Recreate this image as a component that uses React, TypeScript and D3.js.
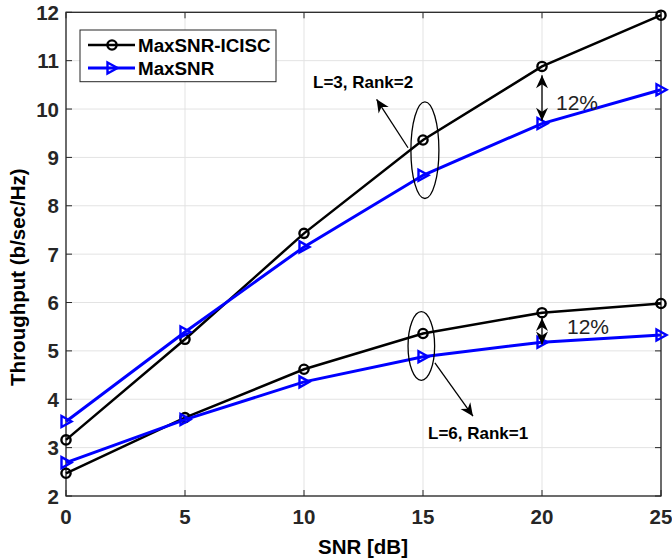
import React from "react";
import * as d3 from "d3";

const snr = [0, 5, 10, 15, 20, 25];
const iciscL3 = [3.16, 5.24, 7.43, 9.36, 10.88, 11.94];
const maxsnrL3 = [3.54, 5.39, 7.15, 8.63, 9.7, 10.4];
const iciscL6 = [2.47, 3.62, 4.62, 5.36, 5.79, 5.98];
const maxsnrL6 = [2.69, 3.58, 4.36, 4.88, 5.18, 5.33];
const xTicks = [0, 5, 10, 15, 20, 25];
const yTicks = [2, 3, 4, 5, 6, 7, 8, 9, 10, 11, 12];
const legendLabels = ["MaxSNR-ICISC", "MaxSNR"];

const W = 672, H = 560;
const L = 66, R = 661, T = 12.3, B = 496;
const FONT = "'Liberation Sans', Arial, Helvetica, sans-serif";
const AX = "#262626";

const x = d3.scaleLinear().domain([0, 25]).range([L, R]);
const y = d3.scaleLinear().domain([2, 12]).range([B, T]);

const line = d3.line<number>().x((_, i) => x(snr[i])).y((d) => y(d));

const tri = "M -4.5 -5.5 L 5.5 0 L -4.5 5.5 Z";

function Head({ tx, ty, angle }: { tx: number; ty: number; angle: number }) {
  return (
    <path
      d="M 0 0 L -13 -6 L -9 0 L -13 6 Z"
      transform={`translate(${tx},${ty}) rotate(${angle})`}
      fill="#000"
    />
  );
}

function Arrow({ x1, y1, x2, y2 }: { x1: number; y1: number; x2: number; y2: number }) {
  const ang = (Math.atan2(y2 - y1, x2 - x1) * 180) / Math.PI;
  return (
    <g>
      <line x1={x1} y1={y1} x2={x2} y2={y2} stroke="#000" strokeWidth={1.3} />
      <Head tx={x2} ty={y2} angle={ang} />
    </g>
  );
}

function DoubleArrow({ xv, y1, y2, small }: { xv: number; y1: number; y2: number; small?: boolean }) {
  return (
    <g>
      <line x1={xv} y1={y1} x2={xv} y2={y2} stroke="#000" strokeWidth={1.3} />
      <Head tx={xv} ty={y1} angle={-90} />
      <Head tx={xv} ty={y2} angle={90} />
    </g>
  );
}

function Series({ data, color, marker, width }: { data: number[]; color: string; marker: "o" | "t"; width: number }) {
  return (
    <g>
      <path d={line(data) || ""} fill="none" stroke={color} strokeWidth={width} />
      {data.map((v, i) =>
        marker === "o" ? (
          <circle key={i} cx={x(snr[i])} cy={y(v)} r={4.6} fill="none" stroke={color} strokeWidth={2.4} />
        ) : (
          <path key={i} d={tri} transform={`translate(${x(snr[i])},${y(v)})`} fill="none" stroke={color} strokeWidth={2.4} />
        )
      )}
    </g>
  );
}

export default function App() {
  return (
    <svg width={W} height={H} style={{ position: "absolute", left: 0, top: 0, background: "#fff" }} fontFamily={FONT}>
      <rect x={0} y={0} width={W} height={H} fill="#fff" />
      {xTicks.map((t) => (
        <line key={"gx" + t} x1={x(t)} x2={x(t)} y1={T} y2={B} stroke="#e3e3e3" strokeWidth={1} />
      ))}
      {yTicks.map((t) => (
        <line key={"gy" + t} x1={L} x2={R} y1={y(t)} y2={y(t)} stroke="#e3e3e3" strokeWidth={1} />
      ))}
      {xTicks.map((t) => (
        <g key={"tx" + t}>
          <line x1={x(t)} x2={x(t)} y1={B} y2={B - 6} stroke={AX} />
          <line x1={x(t)} x2={x(t)} y1={T} y2={T + 6} stroke={AX} />
          <text x={x(t)} y={B + 28} textAnchor="middle" fontSize={20.5} fontWeight="bold" fill={AX}>
            {t}
          </text>
        </g>
      ))}
      {yTicks.map((t) => (
        <g key={"ty" + t}>
          <line x1={L} x2={L + 6} y1={y(t)} y2={y(t)} stroke={AX} />
          <line x1={R} x2={R - 6} y1={y(t)} y2={y(t)} stroke={AX} />
          <text x={L - 7} y={y(t) + 7.5} textAnchor="end" fontSize={20.5} fontWeight="bold" fill={AX}>
            {t}
          </text>
        </g>
      ))}
      <rect x={L} y={T} width={R - L} height={B - T} fill="none" stroke={AX} strokeWidth={1.3} />
      <text x={363} y={554} textAnchor="middle" fontSize={20.5} fontWeight="bold" fill="#000">
        SNR [dB]
      </text>
      <text transform={`translate(25,${(T + B) / 2 + 23}) rotate(-90)`} textAnchor="middle" fontSize={20.5} fontWeight="bold" fill="#000">
        Throughput (b/sec/Hz)
      </text>
      <Series data={iciscL3} color="#000" marker="o" width={2.5} />
      <Series data={maxsnrL3} color="#0000ff" marker="t" width={3} />
      <Series data={iciscL6} color="#000" marker="o" width={2.5} />
      <Series data={maxsnrL6} color="#0000ff" marker="t" width={3} />
      <ellipse cx={x(15.08)} cy={y(9.15)} rx={14} ry={y(8.15) - y(9.15)} fill="none" stroke="#000" strokeWidth={1.3} />
      <ellipse cx={x(14.93)} cy={y(5.1)} rx={13.3} ry={y(4.39) - y(5.1)} fill="none" stroke="#000" strokeWidth={1.3} />
      <Arrow x1={x(14.37)} y1={y(9.2)} x2={x(13.05)} y2={y(10.2)} />
      <Arrow x1={x(15.5)} y1={y(4.75)} x2={x(17.1)} y2={y(3.65)} />
      <DoubleArrow xv={x(20)} y1={y(10.7)} y2={y(9.76)} />
      <DoubleArrow xv={x(20)} y1={y(5.68)} y2={y(5.13)} />
      <text x={313} y={88} fontSize={17} fontWeight="bold" fill="#000">L=3, Rank=2</text>
      <text x={428} y={439} fontSize={17} fontWeight="bold" fill="#000">L=6, Rank=1</text>
      <text x={556} y={110} fontSize={21} fill="#222">12%</text>
      <text x={567} y={334} fontSize={21} fill="#222">12%</text>
      <rect x={80} y={30} width={196} height={51.7} fill="#fff" stroke={AX} strokeWidth={1} />
      {legendLabels.map((lab, i) => {
        const ly = 45 + i * 23;
        const color = i === 0 ? "#000" : "#0000ff";
        return (
          <g key={lab}>
            <line x1={88} x2={135} y1={ly} y2={ly} stroke={color} strokeWidth={i === 0 ? 2.5 : 3} />
            {i === 0 ? (
              <circle cx={112} cy={ly} r={4.6} fill="none" stroke={color} strokeWidth={2.4} />
            ) : (
              <path d={tri} transform={`translate(112,${ly})`} fill="none" stroke={color} strokeWidth={2.4} />
            )}
            <text x={138} y={ly + 6.5} fontSize={18.8} fontWeight="bold" fill="#000">
              {lab}
            </text>
          </g>
        );
      })}
    </svg>
  );
}
